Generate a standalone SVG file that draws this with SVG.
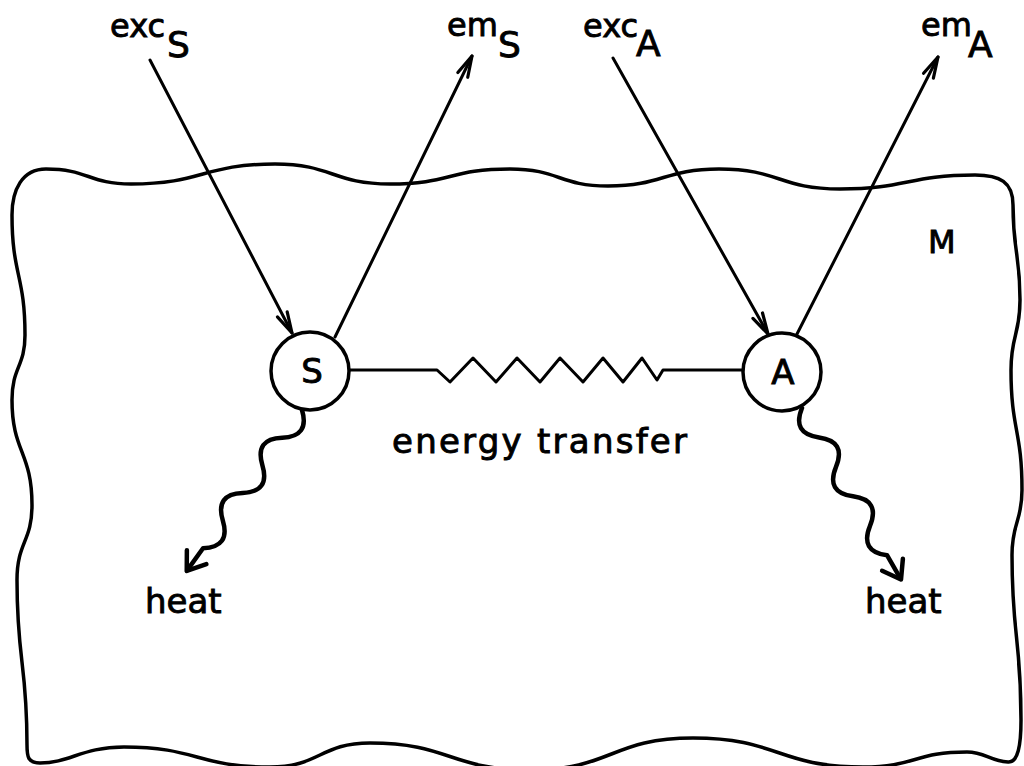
<svg xmlns="http://www.w3.org/2000/svg" width="1024" height="766" viewBox="0 0 1024 766">
<style>
text{font-family:"DejaVu Sans","Liberation Sans",sans-serif;fill:#000;stroke:#000;stroke-width:0.9}
.lbl{font-size:32px}
.sub{font-size:36px}
.ln{fill:none;stroke:#000;stroke-width:3;stroke-linecap:round;stroke-linejoin:round}
.wavy{fill:none;stroke:#000;stroke-width:4.5;stroke-linecap:round;stroke-linejoin:round}
.node circle{fill:#fff;stroke:#000;stroke-width:3.5}
</style>
<defs>
<marker id="ah" markerUnits="userSpaceOnUse" markerWidth="26" markerHeight="16" viewBox="0 0 26 16" refX="23" refY="8" orient="auto">
<path d="M2,2.5 L23,8 L2,13.5" fill="none" stroke="#000" stroke-width="3.2" stroke-linecap="round" stroke-linejoin="round"/>
</marker>
</defs>
<rect width="1024" height="766" fill="#fff"/>
<g id="medium">
<path d="M46,169 C88,169 89,184 131,184 C203,184 203,164 275,164 C332,164 333,184 390,184 C450,184 450,169 510,169 C559,169 559,186 608,186 C663,186 664,169 719,169 C780,169 779,189 840,189 C907,189 908,175 975,175 C1000,175 1013,182 1013,205 C1013,252 1020,253 1020,300 C1020,335 1011,335 1011,370 C1011,430 1022,430 1022,490 C1022,522 1012,522 1012,555 C1012,637 1021,637 1021,720 C1021,745 1018,763 1008,762 C990,761 985,752 967,752 C915,752 915,767 863,767 C778,767 778,738 693,738 C611,738 612,770 530,770 C450,770 450,743 370,743 C320,743 320,767 270,767 C197,767 197,747 124,747 C82,747 70,763 40,763 C28,763 27,757 27,745 C27,662 17,662 17,580 C17,542 32,542 32,505 C32,452 12,452 12,400 C12,367 25,367 25,335 C25,275 12,275 12,215 C12,190 22,169 46,169 Z" fill="none" stroke="#000" stroke-width="3.5" stroke-linejoin="round"/>
<text x="928" y="253" class="lbl">M</text>
</g>
<g id="connectors">
<line class="ln" x1="150" y1="60" x2="292" y2="333" marker-end="url(#ah)"/>
<line class="ln" x1="335" y1="337" x2="472" y2="56" marker-end="url(#ah)"/>
<line class="ln" x1="613" y1="58" x2="768" y2="334" marker-end="url(#ah)"/>
<line class="ln" x1="797" y1="334" x2="938" y2="57" marker-end="url(#ah)"/>
<path class="ln" d="M348,370 L437,370 L450,382 L473,358 L496,382 L517,358 L540,382 L560,358 L583,382 L603,358 L623,382 L642,358 L657,380 L663,370 L744,370" stroke-width="3.2"/>
<g transform="translate(302,410) rotate(125.6)">
<path class="wavy" d="M0,0 q17,-22 34,0 t34,0 t34,0 t34,0 t34,0 L197,0"/>
<path class="wavy" d="M181,-12 L198,0 L181,12"/>
</g>
<g transform="translate(802,408) rotate(60)">
<path class="wavy" d="M0,0 q17,22 34,0 t34,0 t34,0 t34,0 t34,0 L197,0"/>
<path class="wavy" d="M181,-12 L198,0 L181,12"/>
</g>
<text x="392" y="453" font-size="34" textLength="295" lengthAdjust="spacing">energy transfer</text>
</g>
<g id="node-S" class="node">
<circle cx="310" cy="371" r="39"/>
<text x="312" y="383" font-size="34" text-anchor="middle">S</text>
</g>
<g id="node-A" class="node">
<circle cx="782" cy="372" r="39"/>
<text x="783" y="384" font-size="34" text-anchor="middle">A</text>
</g>
<g id="label-excS"><text x="110" y="37" class="lbl">exc</text><text x="167" y="57" class="sub">S</text></g>
<g id="label-emS"><text x="447" y="36" class="lbl">em</text><text x="498" y="57" class="sub">S</text></g>
<g id="label-excA"><text x="583" y="37" class="lbl">exc</text><text x="636" y="56" class="sub">A</text></g>
<g id="label-emA"><text x="921" y="36" class="lbl">em</text><text x="968" y="57" class="sub">A</text></g>
<g id="label-heat-S"><text x="145" y="613" font-size="34">heat</text></g>
<g id="label-heat-A"><text x="865" y="613" font-size="34">heat</text></g>
</svg>
